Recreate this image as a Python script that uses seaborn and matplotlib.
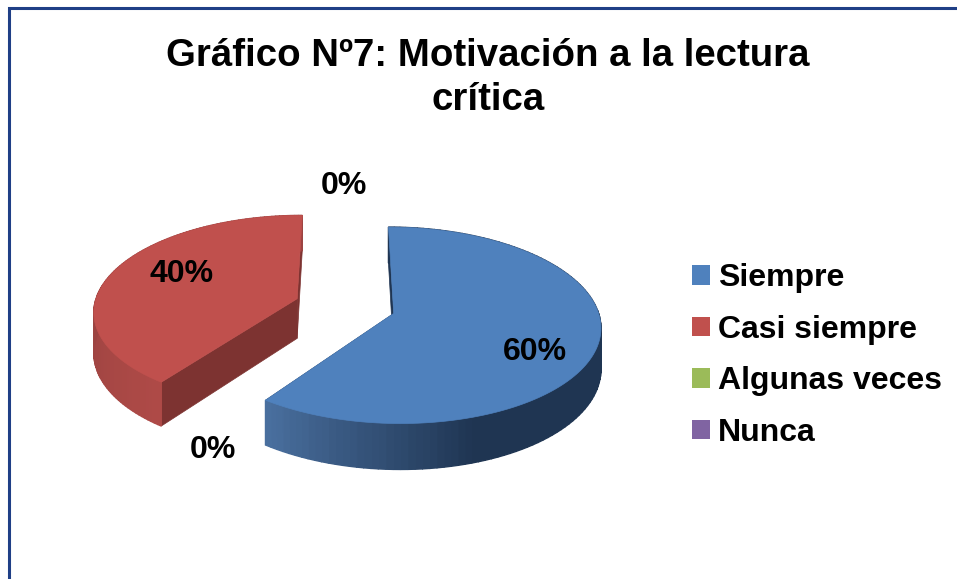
import numpy as np
import matplotlib
matplotlib.use("Agg")
import matplotlib.pyplot as plt
from matplotlib.patches import Polygon, Patch
import seaborn as sns

# Data
categories = ['Siempre', 'Casi siempre', 'Algunas veces', 'Nunca']
values = [60, 40, 0, 0]
title = 'Gráfico Nº7: Motivación a la lectura\ncrítica'

sns.set_theme(style="white")
plt.rcParams['font.family'] = ['Liberation Sans', 'DejaVu Sans']

colors = ['#4F81BD', '#C0504D', '#9BBB59', '#8064A2']
wall_colors = ['#1F3552', '#7D3331', '#5C7035', '#4C3C61']
side_ramps = [sns.blend_palette(['#4A70A0', '#1F3552'], 40),
              sns.blend_palette(['#AE4A47', '#9C4341'], 40)]

# Look of the fake 3D pie (pixels)
CX, CY = 345, 306
RX, RY = 203, 95
DEPTH = 40
PERSP = 0.12
EXPLODE = 0.25
# where the labels go, same order as values; the two 0% sit outside the pie
label_pos = [(535, 352), (182, 274), (344, 186), (213, 450)]


def project(theta, mid, depth=0):
    # theta runs clockwise from the top of the pie
    u = EXPLODE * np.sin(mid) + np.sin(theta)
    v = -EXPLODE * np.cos(mid) - np.cos(theta)
    p = 1 / (1 - PERSP * v)
    return CX + RX * u * p, CY + RY * v * p + depth * p


def apex(mid, depth=0):
    u = EXPLODE * np.sin(mid)
    v = -EXPLODE * np.cos(mid)
    p = 1 / (1 - PERSP * v)
    return CX + RX * u * p, CY + RY * v * p + depth * p


def draw_slice(ax, start, end, i):
    mid = (start + end) / 2
    # cut faces first, the top face hides whichever ones point away
    for edge in (start, end):
        ax.add_patch(Polygon([apex(mid), project(edge, mid),
                              project(edge, mid, DEPTH), apex(mid, DEPTH)],
                             closed=True, fc=wall_colors[i], ec=wall_colors[i], lw=0.5))
    # outer rim with a shaded ramp
    thetas = np.linspace(start, end, 121)
    for a, b in zip(thetas[:-1], thetas[1:]):
        if i == 0:
            # blue gets darker towards the front right
            t = np.clip((np.radians(216) - a) / np.radians(55), 0, 1)
        else:
            t = np.clip((a - np.radians(216)) / np.radians(54), 0, 1)
        col = side_ramps[i][int(t * 39)]
        ax.add_patch(Polygon([project(a, mid), project(b, mid),
                              project(b, mid, DEPTH), project(a, mid, DEPTH)],
                             closed=True, fc=col, ec=col, lw=1.0))
    # top face
    pts = [apex(mid)] + [project(t, mid) for t in np.linspace(start, end, 200)]
    ax.add_patch(Polygon(pts, closed=True, fc=colors[i], ec=colors[i], lw=0.5))


fig = plt.figure(figsize=(9.57, 5.79), dpi=100)
ax = fig.add_axes([0, 0, 1, 1])
ax.set_xlim(0, 957)
ax.set_ylim(579, 0)
ax.axis('off')

# Chart frame, runs off the image at right and bottom
ax.plot([1000, 9, 9], [8, 8, 600], color='#1F3F86', lw=2.2, solid_joinstyle='miter')

total = sum(values)
angle = 0
for i, val in enumerate(values):
    sweep = 2 * np.pi * val / total
    if val > 0:
        draw_slice(ax, angle, angle + sweep, i)
    angle += sweep

for val, (x, y) in zip(values, label_pos):
    ax.text(x, y, f'{val}%', ha='center', va='center', fontsize=23,
            fontweight='bold', color='black')

ax.text(488, 78, title, ha='center', va='center', fontsize=27.6, fontweight='bold',
        color='black', linespacing=1.27)

handles = [Patch(fc=c, ec='none') for c in colors]
ax.legend(handles, categories, loc='center left', bbox_to_anchor=(692, 355.5),
          bbox_transform=ax.transData, frameon=False, prop={'size': 23, 'weight': 'bold'},
          handlelength=0.56, handleheight=0.56, handletextpad=0.25, labelspacing=0.67,
          borderpad=0, borderaxespad=0, labelcolor='black')

fig.savefig('out.png', dpi=100)
